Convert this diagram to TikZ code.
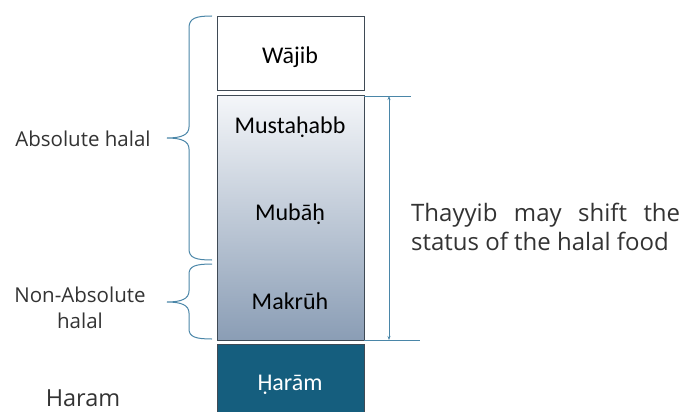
\documentclass[tikz,border=0pt]{standalone}
\usepackage{fontspec}
\setmainfont{Carlito}
\newfontfamily\sidefont{Open Sans}
\usetikzlibrary{arrows.meta}
\definecolor{boxline}{HTML}{3F4A55}
\definecolor{bracecol}{HTML}{4A86A8}
\definecolor{haramfill}{HTML}{155E7E}
\definecolor{gradtop}{HTML}{F4F6F9}
\definecolor{gradbot}{HTML}{8A9DB5}
\definecolor{sidetext}{HTML}{333333}
\tikzset{
  statusbox/.style={draw=boxline, line width=1.1pt, minimum width=147pt, inner sep=0pt},
  boxlabel/.style={font=\fontsize{24}{28}\selectfont, text=black, inner sep=0pt},
  sidelabel/.style={font=\sidefont\fontsize{20.5}{26}\selectfont, text=sidetext, inner sep=0pt, align=center},
  bracestyle/.style={draw=bracecol, line width=1pt},
  guide/.style={draw=bracecol, line width=0.9pt}
}
\begin{document}
\begin{tikzpicture}[x=1pt,y=-1pt]
\useasboundingbox (0,0) rectangle (683,412);
% boxes
\node[statusbox, minimum height=74pt, anchor=north west, fill=white] (wajib) at (217,16) {};
\node[statusbox, minimum height=245pt, anchor=north west, top color=gradtop, bottom color=gradbot] (halal) at (217,95) {};
\node[statusbox, minimum height=80pt, anchor=north west, fill=haramfill] (haram) at (217,344) {};
% box labels
\node[boxlabel] (lwajib) at (290,57) {Wājib};
\node[boxlabel] (lmust) at (290,127) {Mustaḥabb};
\node[boxlabel] (lmubah) at (290,214) {Mubāḥ};
\node[boxlabel] (lmakruh) at (290,301) {Makrūh};
\node[boxlabel, text=white] (lharam) at (290,385) {Ḥarām};
% guide lines and arrow
\coordinate (t1) at (364,96);
\coordinate (t2) at (411,96);
\coordinate (b1) at (364,340);
\coordinate (b2) at (420,340);
\coordinate (at) at (389,96);
\coordinate (ab) at (389,340);
\draw[guide] (t1) -- (t2);
\draw[guide] (b1) -- (b2);
\draw[guide, {Stealth[length=4pt,width=3pt]}-{Stealth[length=4pt,width=3pt]}] (at) -- (ab);
% braces
\draw[bracestyle] (212,16) .. controls (196,16) and (189,18) .. (189,28) -- (189,127)
  .. controls (189,135) and (181,138) .. (167,138)
  .. controls (181,138) and (189,141) .. (189,149) -- (189,249)
  .. controls (189,258) and (196,260) .. (212,260);
\draw[bracestyle] (212,264) .. controls (196,264) and (189,266) .. (189,274) -- (189,291)
  .. controls (189,299) and (181,302) .. (167,302)
  .. controls (181,302) and (189,305) .. (189,313) -- (189,329)
  .. controls (189,337) and (196,339) .. (212,339);
% side labels
\node[sidelabel] (abs) at (83,139) {Absolute halal};
\node[sidelabel] (nonabs) at (80,308) {Non-Absolute\\halal};
\node[sidelabel, font=\sidefont\fontsize{23.5}{28}\selectfont] (haramlbl) at (83,398) {Haram};
\node[sidelabel, font=\sidefont\fontsize{24}{29}\selectfont, align=left, anchor=west] (thayyib) at (411,227)
  {\makebox[269pt][s]{Thayyib may shift the}\\status of the halal food};
\end{tikzpicture}
\end{document}
